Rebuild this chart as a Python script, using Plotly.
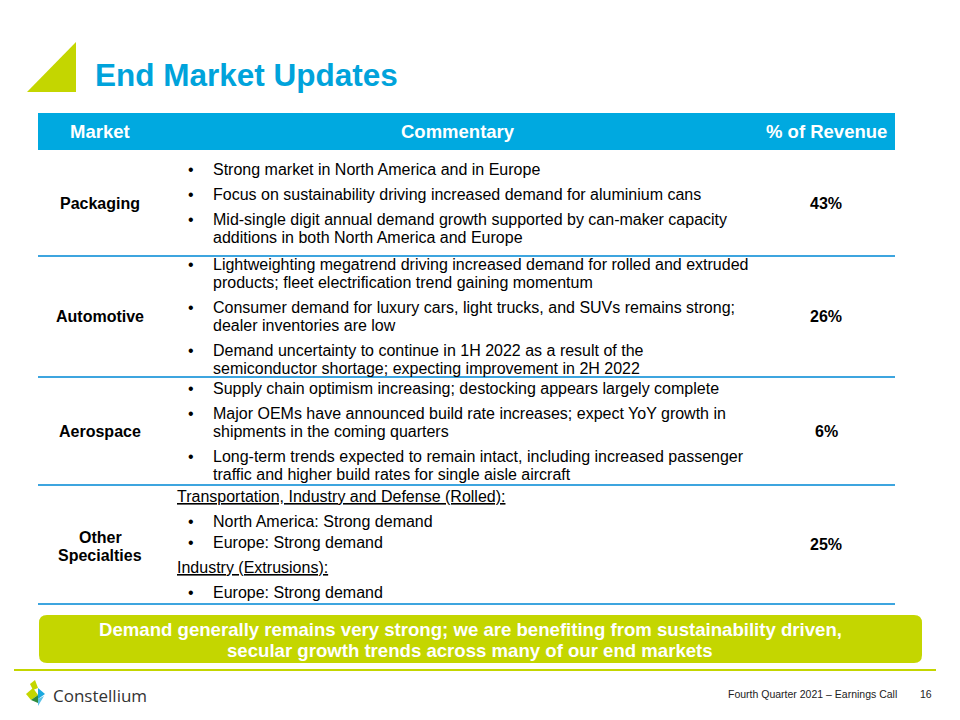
import plotly.graph_objects as go

# ---------------- data ----------------
title = "End Market Updates"
columns = ["Market", "Commentary", "% of Revenue"]
markets = ["Packaging", "Automotive", "Aerospace", "Other<br>Specialties"]
revenue_share = [43, 26, 6, 25]

packaging_notes = [
    ("bullet", ["Strong market in North America and in Europe"]),
    ("bullet", ["Focus on sustainability driving increased demand for aluminium cans"]),
    ("bullet", ["Mid-single digit annual demand growth supported by can-maker capacity",
                "additions in both North America and Europe"]),
]
automotive_notes = [
    ("bullet", ["Lightweighting megatrend driving increased demand for rolled and extruded",
                "products; fleet electrification trend gaining momentum"]),
    ("bullet", ["Consumer demand for luxury cars, light trucks, and SUVs remains strong;",
                "dealer inventories are low"]),
    ("bullet", ["Demand uncertainty to continue in 1H 2022 as a result of the",
                "semiconductor shortage; expecting improvement in 2H 2022"]),
]
aerospace_notes = [
    ("bullet", ["Supply chain optimism increasing; destocking appears largely complete"]),
    ("bullet", ["Major OEMs have announced build rate increases; expect YoY growth in",
                "shipments in the coming quarters"]),
    ("bullet", ["Long-term trends expected to remain intact, including increased passenger",
                "traffic and higher build rates for single aisle aircraft"]),
]
other_notes = [
    ("heading", ["Transportation, Industry and Defense (Rolled):"]),
    ("bullet", ["North America: Strong demand"]),
    ("bullet", ["Europe: Strong demand"]),
    ("heading", ["Industry (Extrusions):"]),
    ("bullet", ["Europe: Strong demand"]),
]
commentary = [packaging_notes, automotive_notes, aerospace_notes, other_notes]

takeaway = ["Demand generally remains very strong; we are benefiting from sustainability driven,",
            "secular growth trends across many of our end markets"]
footer_text = "Fourth Quarter 2021 \u2013 Earnings Call"
page_number = "16"
company = "Constellium"

# ---------------- style / layout ----------------
W, H = 960, 720
BODY = 8  # default page margin of the html body
BLUE = "#00A3DB"
HEADER_BLUE = "#00A9E0"
LINE_BLUE = "#3DA5DF"
LIME = "#C4D600"
FONT = "Liberation Sans, Arial, sans-serif"

table_left, table_right = 38, 895
header_top, header_bottom = 113, 150
row_bottoms = [256, 377, 485, 604]
market_x = 100
bullet_x = 187
text_x = 212
heading_x = 176
revenue_x = 826
line_step = 18
label_line_step = 18

shapes = []
annotations = []

def txt(x, y, text, size=16, color="black", bold=False, xanchor="left", family=FONT):
    annotations.append(dict(
        x=x, y=y, xref="x", yref="y", text=("<b>%s</b>" % text) if bold else text,
        showarrow=False, xanchor=xanchor, yanchor="middle",
        font=dict(size=size, color=color, family=family), borderpad=0))

# title triangle and title
shapes.append(dict(type="path", path="M 27 92 L 76 42 L 76 92 Z",
                   fillcolor=LIME, line=dict(width=0), xref="x", yref="y"))
txt(94, 75, title, size=31.5, color=BLUE, bold=True)

# header bar
shapes.append(dict(type="rect", x0=table_left, x1=table_right, y0=header_top, y1=header_bottom,
                   fillcolor=HEADER_BLUE, line=dict(width=0), xref="x", yref="y"))
hy = (header_top + header_bottom) / 2
txt(market_x, hy, columns[0], size=18.5, color="white", bold=True, xanchor="center")
txt(458, hy, columns[1], size=18.5, color="white", bold=True, xanchor="center")
txt(888, hy, columns[2], size=18.5, color="white", bold=True, xanchor="right")

# rows
row_tops = [header_bottom] + row_bottoms[:-1]
for i, (market, share, notes) in enumerate(zip(markets, revenue_share, commentary)):
    top, bottom = row_tops[i], row_bottoms[i]
    center = (top + bottom) / 2
    shapes.append(dict(type="line", x0=table_left, x1=table_right, y0=bottom, y1=bottom,
                       line=dict(color=LINE_BLUE, width=2), xref="x", yref="y"))
    label_lines = market.split("<br>")
    label_shift = 1.5 if len(label_lines) > 1 else 0
    first = center + label_shift - (len(label_lines) - 1) * label_line_step / 2
    for k, part in enumerate(label_lines):
        txt(market_x, first + k * label_line_step, part, size=16, bold=True, xanchor="center")
    txt(revenue_x, center, "%d%%" % share, size=16, bold=True, xanchor="center")

    # compute line positions
    ys = []
    y = 0
    prev_kind = None
    has_heading = any(k == "heading" for k, _ in notes)
    for kind, lines in notes:
        if prev_kind is not None:
            if prev_kind == "bullet" and kind == "bullet" and has_heading:
                y += 21
            else:
                y += 25
        item_ys = []
        for j, _ in enumerate(lines):
            if j > 0:
                y += line_step
            item_ys.append(y)
        ys.append(item_ys)
        prev_kind = kind
    offset = center - y / 2
    for (kind, lines), item_ys in zip(notes, ys):
        for j, (line, ly) in enumerate(zip(lines, item_ys)):
            yy = ly + offset
            if kind == "heading":
                txt(heading_x, yy, "<u>%s</u>" % line)
            else:
                if j == 0:
                    txt(bullet_x, yy, "\u2022")
                txt(text_x, yy, line)

# takeaway box
shapes.append(dict(type="path",
                   path="M 47 615 L 914 615 Q 922 615 922 623 L 922 655 Q 922 663 914 663 "
                        "L 47 663 Q 39 663 39 655 L 39 623 Q 39 615 47 615 Z",
                   fillcolor=LIME, line=dict(width=0), xref="x", yref="y"))
txt(470, 629, takeaway[0], size=18.6, color="white", bold=True, xanchor="center")
txt(470, 650, takeaway[1], size=18.6, color="white", bold=True, xanchor="center")

# footer rule
shapes.append(dict(type="line", x0=14, x1=936, y0=670, y1=670,
                   line=dict(color=LIME, width=2), xref="x", yref="y"))

# logo
logo_parts = [
    ("M 30 684 L 35 680 L 38 688 L 33 690 Z", LIME),
    ("M 26 694 L 33 688 L 38 695 L 31 700 Z", LIME),
    ("M 38 688 L 45 694 L 38 699 Z", "#1BA8DF"),
    ("M 31 700 L 38 695 L 38 703 Z", "#2E8B3E"),
    ("M 38 699 L 44 696 L 38 706 Z", "#5BC2E7"),
]
for p, c in logo_parts:
    shapes.append(dict(type="path", path=p, fillcolor=c, line=dict(width=0), xref="x", yref="y"))
txt(52, 695, company, size=17, color="#333333", family="Open Sans, Liberation Sans, sans-serif")

txt(898, 694, footer_text, size=10.5, color="#222222", xanchor="right")
txt(933, 694, page_number, size=10.5, color="#222222", xanchor="right")

fig = go.Figure()
fig.update_layout(
    width=W - BODY, height=H - BODY, margin=dict(l=0, r=0, t=0, b=0),
    paper_bgcolor="white", plot_bgcolor="white",
    xaxis=dict(range=[BODY, W], visible=False, fixedrange=True),
    yaxis=dict(range=[H, BODY], visible=False, fixedrange=True),
    shapes=shapes, annotations=annotations, showlegend=False,
)
fig.write_html("out.html", config={"displayModeBar": False})
